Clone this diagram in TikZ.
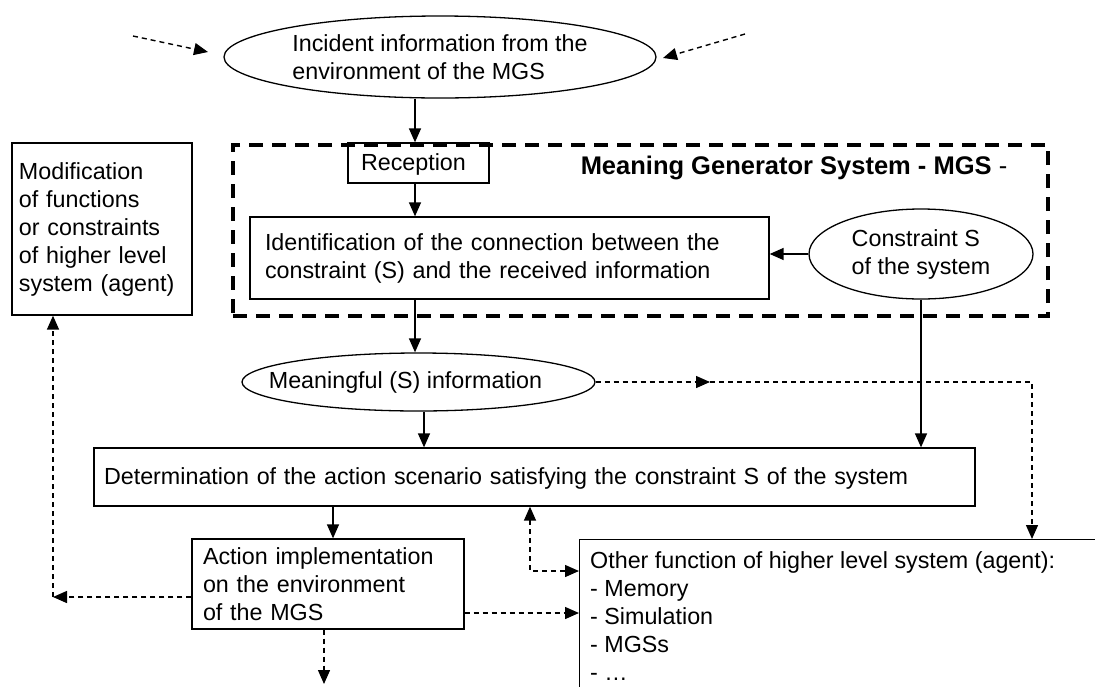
\documentclass[tikz,border=0pt]{standalone}
\usepackage{fontspec}
\setmainfont{Liberation Sans}
\usetikzlibrary{arrows.meta,shapes.geometric}
\tikzset{
  txt/.style={font=\fontsize{23.3}{28}\selectfont},
  box/.style={draw, line width=1.3pt, rectangle, txt, align=left, inner ysep=0pt},
  oval/.style={draw, line width=1.3pt, ellipse, txt, align=left, inner sep=0pt},
  tipend/.style={-{Triangle[length=14pt,width=12pt]}},
  solidarr/.style={line width=1.4pt, tipend},
  dasharr/.style={line width=1.4pt, dash pattern=on 5pt off 4pt, tipend},
}
\begin{document}
\begin{tikzpicture}[x=1pt,y=1pt]
\useasboundingbox (0,0) rectangle (1095,-686);
\clip (0,0) rectangle (1095,-686);

% MGS dashed frame
\node[draw, line width=3.5pt, dash pattern=on 14pt off 9pt, minimum width=815pt, minimum height=171pt, inner sep=0pt] (mgs) at (640.5,-230.5) {};
\node[font=\fontsize{25.5}{30}\selectfont] (title) at (794,-168) {\textbf{Meaning Generator System - MGS} -};

% nodes
\node[oval, minimum width=432pt, minimum height=82pt] (inc) at (440,-57) {Incident information from the\\environment of the MGS};
\node[box, minimum width=180pt, minimum height=172pt, text width=166pt, inner xsep=7pt] (mod) at (102,-229) {Modification\\of functions\\or constraints\\of higher level\\system (agent)};
\node[box, minimum height=40pt, text width=115pt, inner xsep=13pt, text depth=1pt] (rec) at (418.5,-163) {Reception};
\node[box, minimum height=82pt, text width=489pt, inner xsep=15pt] (ident) at (509.5,-258) {Identification of the connection between the\\constraint (S) and the received information};
\node[oval, minimum width=224pt, minimum height=90pt] (cons) at (921,-254) {Constraint S\\of the system};
\node[oval, minimum width=353pt, minimum height=58pt] (mean) at (418.5,-382) {\makebox[0pt][c]{Meaningful (S) information\hspace*{26pt}}};
\node[box, minimum height=58pt, text width=861pt, inner xsep=10pt, text depth=1pt] (det) at (534.5,-477) {Determination of the action scenario satisfying the constraint S of the system};
\node[box, minimum height=90pt, text width=250pt, inner xsep=11pt] (action) at (328,-584) {Action implementation\\on the environment\\of the MGS};
\node[draw, line width=1.3pt, minimum width=700pt, minimum height=300pt, anchor=north west, inner sep=0pt] (other) at (579,-539) {};
\node[txt, align=left, anchor=north west, inner sep=0pt] (othertext) at (590,-551) {Other function of higher level system (agent):\\- Memory\\- Simulation\\- MGSs\\- …};

% helper coordinates
\coordinate (ax1) at (415,0);
\coordinate (ax2) at (424,0);
\coordinate (ax3) at (333,0);
\coordinate (mid) at (710,-382);
\coordinate (c2) at (1032,-382);
\coordinate (c3) at (53,-597);
\coordinate (c4) at (0,-613);
\coordinate (c5) at (324,-684);
\coordinate (c6) at (530,-571);
\coordinate (inLa) at (133,-36);
\coordinate (inLb) at (208,-52);
\coordinate (inRa) at (745,-34);
\coordinate (inRb) at (663,-58);

% solid connectors
\draw[solidarr] (inc.south -| ax1) -- (rec.north -| ax1);
\draw[solidarr] (rec.south -| ax1) -- (ident.north -| ax1);
\draw[solidarr] (ident.south -| ax1) -- (mean.north -| ax1);
\draw[solidarr] (mean.south -| ax2) -- (det.north -| ax2);
\draw[solidarr] (cons.west) -- (cons.west -| ident.east);
\draw[solidarr] (cons.south) -- (cons.south |- det.north);
\draw[solidarr] (det.south -| ax3) -- (action.north -| ax3);

% dashed connectors
\draw[dasharr] (inLa) -- (inLb);
\draw[dasharr] (inRa) -- (inRb);
\draw[dasharr] (mean.east) -- (mid);
\draw[dasharr] (mid) -- (c2) -- (other.north -| c2);
\draw[dasharr] (action.west |- c3) -- (c3);
\draw[dasharr] (c3) -- (mod.south -| c3);
\draw[dasharr] (action.east |- c4) -- (other.west |- c4);
\draw[dasharr] (action.south -| c5) -- (c5);
\draw[line width=1.4pt, dash pattern=on 5pt off 4pt, {Triangle[length=14pt,width=12pt]}-{Triangle[length=14pt,width=12pt]}] (det.south -| c6) |- (other.west |- c6);
\end{tikzpicture}
\end{document}
